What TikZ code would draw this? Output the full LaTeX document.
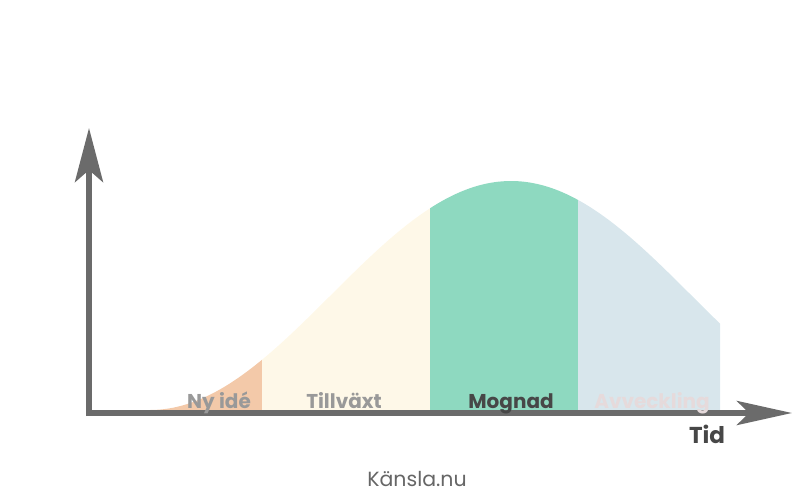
\documentclass[tikz,border=0pt]{standalone}
\usepackage{fontspec}
\setmainfont{Poppins}
\usetikzlibrary{arrows.meta,positioning}
\usepackage{xcolor}

\definecolor{axisgray}{HTML}{6B6B6B}
\definecolor{nyide}{HTML}{F3C9A9}
\definecolor{tillvaxt}{HTML}{FEF8E8}
\definecolor{mognad}{HTML}{8ED9C0}
\definecolor{avveckling}{HTML}{D8E6EC}
\definecolor{fadedtext}{HTML}{E6DADB}

\begin{document}
\begin{tikzpicture}[
				x=1pt,y=-1pt,
				axis/.style={draw=axisgray,line width=6pt},
				phase/.style={font=\fontsize{20}{24}\selectfont\bfseries,anchor=base},
				declare function={bell(\x)=410-229*(1+cos((\x-511)/361*180))/2;}
				]
				
				\useasboundingbox (0,0) rectangle (800,500);
				
				% phases under the curve
				\foreach \a/\b/\col in {150/262/nyide,262/430/tillvaxt,430/578/mognad,578/720/avveckling}
				\fill[\col] (\a,410) -- plot[domain=\a:\b,samples=40] ({\x},{bell(\x)}) -- (\b,410) -- cycle;
				
				\coordinate (origin) at (89,413);
				\coordinate (ytop) at (89,128);
				\coordinate (xend) at (792,413);
				
				\draw[axis,-{Stealth[length=54pt,width=28pt,inset=12pt]}] (89,416) -- (ytop);
				\draw[axis,-{Stealth[length=55pt,width=24pt,inset=12pt]}] (86,413) -- (xend);
				
				\node[phase,text=black!40] (ny) at (219,408) {Ny idé};
				\node[phase,text=black!40] (till) at (344,408) {Tillväxt};
				\node[phase,text=black!72] (mogn) at (511,408) {Mognad};
				\node[phase,text=fadedtext] (avv) at (652,408) {Avveckling};
				
				\node[phase,text=black!72,font=\fontsize{23}{27}\selectfont\bfseries] (tid) at (707,443) {Tid};
				\node[anchor=base,text=black!60,font=\fontsize{20.5}{24}\selectfont] (kansla) at (417,486) {Känsla.nu};
				
			\end{tikzpicture}
\end{document}
